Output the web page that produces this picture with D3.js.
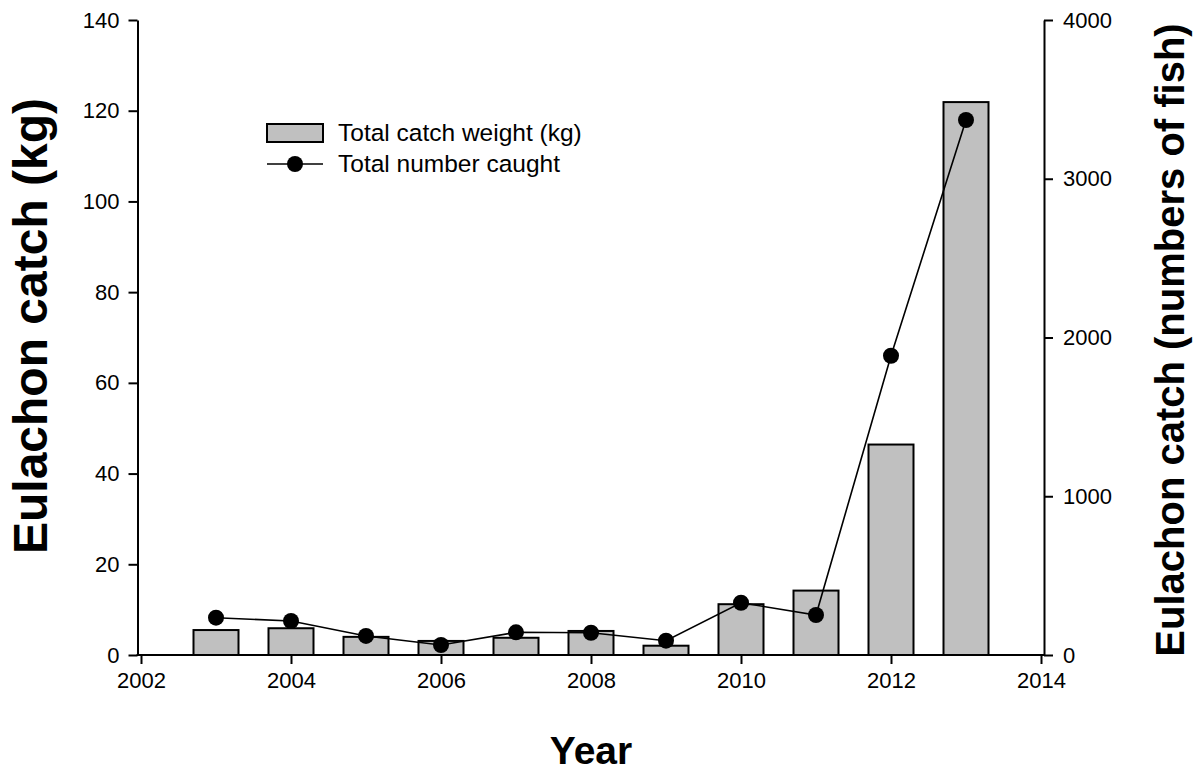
<!DOCTYPE html>
<html>
<head>
<meta charset="utf-8">
<script src="https://cdn.jsdelivr.net/npm/d3@7/dist/d3.min.js"></script>
<style>
  html, body { margin: 0; padding: 0; background: #fff; }
  svg { display: block; }
  text { font-family: "Liberation Sans", Arial, sans-serif; fill: #000; }
</style>
</head>
<body>
<svg id="chart" width="1198" height="772"></svg>
<script>
const years = [2003, 2004, 2005, 2006, 2007, 2008, 2009, 2010, 2011, 2012, 2013];
const catchWeightKg = [5.5, 5.9, 4.0, 3.1, 3.8, 5.3, 2.05, 11.2, 14.2, 46.4, 121.9];
const numberCaught = [235, 214, 120, 63, 143, 140, 90, 329, 252, 1885, 3370];
const xTicks = [2002, 2004, 2006, 2008, 2010, 2012, 2014];
const leftTicks = [0, 20, 40, 60, 80, 100, 120, 140];
const rightTicks = [0, 1000, 2000, 3000, 4000];
const legendLabels = ["Total catch weight (kg)", "Total number caught"];
const titles = { left: "Eulachon catch (kg)", right: "Eulachon catch (numbers of fish)", x: "Year" };

const svg = d3.select("#chart");
const x = d3.scaleLinear().domain([2002, 2014]).range([141, 1041]);
const yL = d3.scaleLinear().domain([0, 140]).range([655, 20]);
const yR = d3.scaleLinear().domain([0, 4000]).range([655, 20]);
const barW = (x(2003) - x(2002)) * 0.6;

// bars
svg.append("g").selectAll("rect").data(years).join("rect")
  .attr("x", (d) => x(d) - barW / 2)
  .attr("y", (d, i) => yL(catchWeightKg[i]))
  .attr("width", barW)
  .attr("height", (d, i) => yL(0) - yL(catchWeightKg[i]))
  .attr("fill", "#c0c0c0")
  .attr("stroke", "#000")
  .attr("stroke-width", 2);

// line
const line = d3.line().x((d) => x(d[0])).y((d) => yR(d[1]));
const pts = years.map((y, i) => [y, numberCaught[i]]);
svg.append("path").datum(pts).attr("d", line)
  .attr("fill", "none").attr("stroke", "#000").attr("stroke-width", 1.6);
svg.append("g").selectAll("circle").data(pts).join("circle")
  .attr("cx", (d) => x(d[0])).attr("cy", (d) => yR(d[1])).attr("r", 8).attr("fill", "#000");

// axes
const fs = 22;
const gL = svg.append("g").attr("transform", "translate(137.5,0)")
  .call(d3.axisLeft(yL).tickValues(leftTicks).tickSize(9).tickSizeOuter(0).tickPadding(9));
const gR = svg.append("g").attr("transform", "translate(1044,0)")
  .call(d3.axisRight(yR).tickValues(rightTicks).tickFormat(d3.format("d")).tickSize(9).tickSizeOuter(0).tickPadding(10));
const gX = svg.append("g").attr("transform", "translate(0,655)")
  .call(d3.axisBottom(x).tickValues(xTicks).tickFormat(d3.format("d")).tickSize(9).tickSizeOuter(0).tickPadding(8));
gX.select(".domain").remove();
svg.append("line").attr("x1", 136.5).attr("x2", 1045).attr("y1", 655).attr("y2", 655)
  .attr("stroke", "#000").attr("stroke-width", 2);
[gL, gR, gX].forEach((g) => {
  g.attr("font-size", fs).attr("font-family", "Liberation Sans, Arial, sans-serif");
  g.selectAll(".domain").attr("stroke", "#000").attr("stroke-width", 2);
  g.selectAll(".tick line").attr("stroke", "#000").attr("stroke-width", 2);
  g.selectAll(".tick text").attr("font-size", fs).attr("fill", "#000");
});

// titles
svg.append("text").attr("transform", "translate(47,326) rotate(-90)")
  .attr("text-anchor", "middle").attr("font-size", 48).attr("font-weight", "bold").text(titles.left);
svg.append("text").attr("transform", "translate(1184,340) rotate(-90)")
  .attr("text-anchor", "middle").attr("font-size", 40).attr("font-weight", "bold").text(titles.right);
svg.append("text").attr("x", 591).attr("y", 764)
  .attr("text-anchor", "middle").attr("font-size", 39).attr("font-weight", "bold").text(titles.x);

// legend
const lg = svg.append("g");
lg.append("rect").attr("x", 267).attr("y", 124).attr("width", 56).attr("height", 18)
  .attr("fill", "#c0c0c0").attr("stroke", "#000").attr("stroke-width", 2);
lg.append("text").attr("x", 338).attr("y", 141).attr("font-size", 24.5).text(legendLabels[0]);
lg.append("line").attr("x1", 267).attr("x2", 323).attr("y1", 164).attr("y2", 164)
  .attr("stroke", "#000").attr("stroke-width", 1.6);
lg.append("circle").attr("cx", 295).attr("cy", 164).attr("r", 8).attr("fill", "#000");
lg.append("text").attr("x", 338).attr("y", 172).attr("font-size", 24.5).text(legendLabels[1]);
</script>
</body>
</html>
